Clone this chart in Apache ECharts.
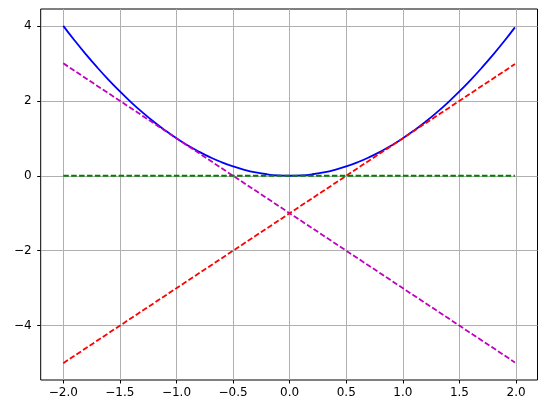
<!DOCTYPE html>
<html>
<head>
<meta charset="utf-8">
<script src="https://cdn.jsdelivr.net/npm/echarts@6/dist/echarts.min.js"></script>
<style>
  html, body { margin: 0; padding: 0; background: #fff; }
  #chart { width: 546px; height: 413px; }
</style>
</head>
<body>
<div id="chart"></div>
<script>
// parabola samples
const curveX = [-2.0, -1.9, -1.8, -1.7, -1.6, -1.5, -1.4, -1.3, -1.2, -1.1, -1.0,
  -0.9, -0.8, -0.7, -0.6, -0.5, -0.4, -0.3, -0.2, -0.1, 0.0,
  0.1, 0.2, 0.3, 0.4, 0.5, 0.6, 0.7, 0.8, 0.9, 1.0,
  1.1, 1.2, 1.3, 1.4, 1.5, 1.6, 1.7, 1.8, 1.9, 1.99];
const curveY = [4.00, 3.61, 3.24, 2.89, 2.56, 2.25, 1.96, 1.69, 1.44, 1.21, 1.00,
  0.81, 0.64, 0.49, 0.36, 0.25, 0.16, 0.09, 0.04, 0.01, 0.00,
  0.01, 0.04, 0.09, 0.16, 0.25, 0.36, 0.49, 0.64, 0.81, 1.00,
  1.21, 1.44, 1.69, 1.96, 2.25, 2.56, 2.89, 3.24, 3.61, 3.96];

// straight dashed lines: endpoints
const lineX = [-2.0, 1.99];
const redY = [-5.0, 2.98];
const magentaY = [3.0, -4.98];
const greenY = [0.0, 0.0];

const xTicks = [-2.0, -1.5, -1.0, -0.5, 0.0, 0.5, 1.0, 1.5, 2.0];
const yTicks = [-4, -2, 0, 2, 4];

const pairs = (xs, ys) => xs.map((x, i) => [x, ys[i]]);
const minus = s => s.replace('-', '\u2212');
const dash = [5.5, 2.4];

const chart = echarts.init(document.getElementById('chart'));
chart.setOption({
  animation: false,
  grid: {
    left: 40.7, right: 8.5, top: 9, bottom: 33,
    show: true, borderColor: '#000', borderWidth: 1
  },
  xAxis: {
    type: 'value', min: -2.1995, max: 2.1895,
    axisLine: { show: false, onZero: false },
    axisTick: { show: true, length: 3.5, customValues: xTicks, lineStyle: { color: '#000' } },
    axisLabel: {
      customValues: xTicks, margin: 7, color: '#000', fontSize: 12,
      fontFamily: 'DejaVu Sans',
      formatter: v => minus(v.toFixed(1))
    },
    splitLine: { show: true, lineStyle: { color: '#b0b0b0', width: 1 } }
  },
  yAxis: {
    type: 'value', min: -5.45, max: 4.45,
    axisLine: { show: false, onZero: false },
    axisTick: { show: true, length: 3.5, customValues: yTicks, lineStyle: { color: '#000' } },
    axisLabel: {
      customValues: yTicks, margin: 9, color: '#000', fontSize: 12,
      fontFamily: 'DejaVu Sans',
      formatter: v => minus(String(v))
    },
    splitLine: { show: true, lineStyle: { color: '#b0b0b0', width: 1 } }
  },
  series: [
    { type: 'line', data: pairs(curveX, curveY), smooth: true, showSymbol: false,
      lineStyle: { color: '#0000ff', width: 1.8 } },
    { type: 'line', data: pairs(lineX, redY), showSymbol: false,
      lineStyle: { color: '#ff0000', width: 1.8, type: dash } },
    { type: 'line', data: pairs(lineX, magentaY), showSymbol: false,
      lineStyle: { color: '#bf00bf', width: 1.8, type: dash } },
    { type: 'line', data: pairs(lineX, greenY), showSymbol: false,
      lineStyle: { color: '#008000', width: 1.8, type: dash } }
  ]
});
</script>
</body>
</html>
